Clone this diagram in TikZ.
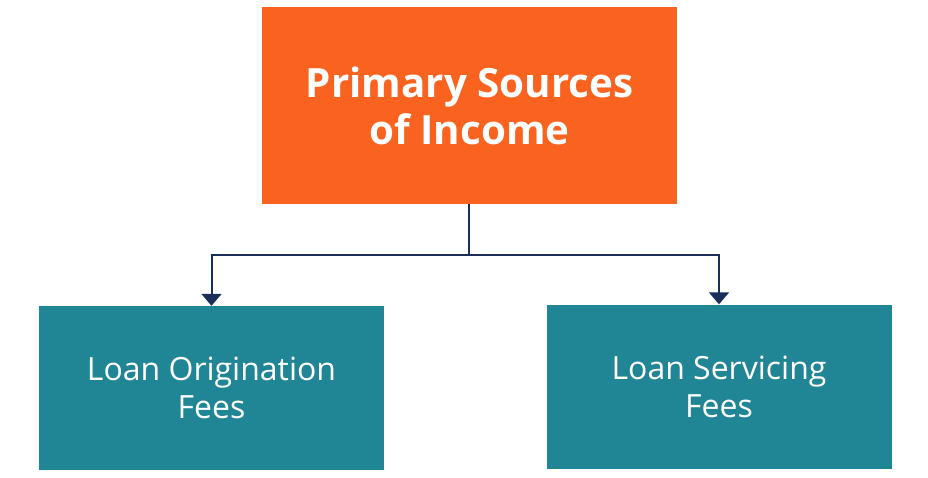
\documentclass[tikz,border=0pt]{standalone}
\usepackage{fontspec}
\setmainfont{Open Sans}
\usetikzlibrary{arrows.meta}
\definecolor{topor}{HTML}{F9621F}
\definecolor{teal2}{HTML}{208595}
\definecolor{navy}{HTML}{1A2E5A}
\tikzset{
  topbox/.style={fill=topor, draw=none, minimum width=415pt, minimum height=197pt, inner sep=0pt,
    text=white, font=\fontsize{40.3}{47}\selectfont\bfseries, align=center},
  feebox/.style={fill=teal2, draw=none, minimum width=345pt, minimum height=164pt, inner sep=0pt,
    text=white, font=\fontsize{32}{38}\selectfont, align=center},
  conn/.style={draw=navy, line width=2pt, -{Triangle[width=20pt,length=12pt]}}
}
\begin{document}
\begin{tikzpicture}[x=1pt,y=-1pt]
\useasboundingbox (0,0) rectangle (928,477);
\node[topbox] (top) at (469.5,105.5) {Primary Sources\\of Income};
\node[feebox] (left) at (211.5,388) {Loan Origination\\Fees};
\node[feebox] (right) at (719,386.5) {Loan Servicing\\Fees};
\coordinate (mid) at (469,255);
\draw[navy, line width=2pt] (top.south -| mid) -- (mid);
\draw[conn] (mid) -| (left.north);
\draw[conn] (mid) -| (right.north);
\end{tikzpicture}
\end{document}
